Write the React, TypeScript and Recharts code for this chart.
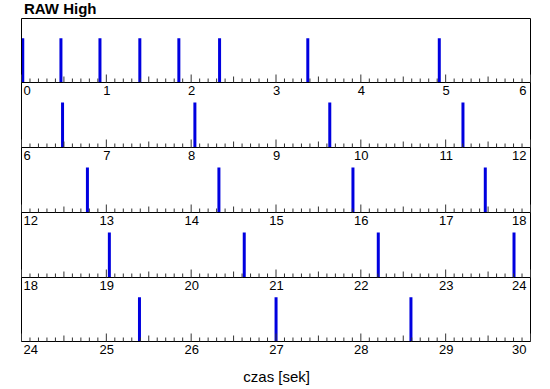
import React from 'react';
import { ComposedChart, Bar, XAxis, YAxis } from 'recharts';

// Panel configuration (seconds)
const PANEL_STARTS = [0, 6, 12, 18, 24];
const PANEL_SPAN = 6;
const PANEL_TOPS = [18, 82, 147, 212, 277];
const PANEL_BOTTOMS = [82, 147, 212, 277, 341];

// Spike times (seconds)
const SPIKE_TIMES = [
  0.01, 0.46, 0.92, 1.39, 1.85, 2.33, 3.37, 4.92,
  6.48, 8.04, 9.63, 11.2,
  12.78, 14.33, 15.91, 17.47,
  19.03, 20.62, 22.2, 23.8,
  25.39, 27.0, 28.59,
];
const SPIKE_VALUES = [
  1, 1, 1, 1, 1, 1, 1, 1,
  1, 1, 1, 1,
  1, 1, 1, 1,
  1, 1, 1, 1,
  1, 1, 1,
];

const TITLE = 'RAW High';
const X_TITLE = 'czas [sek]';
const FONT = '"Liberation Sans", Arial, Helvetica, sans-serif';
const SPIKE_COLOR = '#0000e0';

const makeTicks = (lo: number) => {
  const t: number[] = [];
  for (let k = 0; k <= PANEL_SPAN * 10; k++) t.push(Math.round(lo * 10 + k) / 10);
  return t;
};

const makeTick = (lo: number, hi: number) => (props: any) => {
  const { x, y, payload } = props;
  const v = payload.value as number;
  const rel = Math.round((v - lo) * 10);
  const isInt = rel % 10 === 0;
  const isHalf = rel % 5 === 0;
  const len = isInt ? 8 : isHalf ? 6 : 4;
  let anchor: 'start' | 'middle' | 'end' = 'middle';
  let tx = x + 0.5;
  if (rel === 0) {
    anchor = 'start';
    tx = x + 2;
  } else if (Math.abs(v - hi) < 1e-6) {
    anchor = 'end';
    tx = x - 4;
  }
  return (
    <g>
      <line x1={x} x2={x} y1={y} y2={y - len} stroke="#333" strokeWidth={1} />
      {isInt && (
        <text x={tx} y={y + 12} textAnchor={anchor} fontSize={13} fontFamily={FONT} fill="#000">
          {String(v)}
        </text>
      )}
    </g>
  );
};

const Panel = ({ index }: { index: number }) => {
  const lo = PANEL_STARTS[index];
  const hi = lo + PANEL_SPAN;
  const h = PANEL_BOTTOMS[index] - PANEL_TOPS[index];
  const data = SPIKE_TIMES.map((t, i) => ({ t, v: SPIKE_VALUES[i] })).filter(
    (d) => d.t >= lo && d.t < hi
  );
  const first = index === 0;
  return (
    <div style={{ position: 'absolute', left: 0, top: PANEL_TOPS[index] }}>
      <ComposedChart
        width={550}
        height={h + 22}
        data={data}
        margin={{ top: first ? -0.5 : 0.5, right: 18.5, bottom: 0, left: 20.5 }}
      >
        <XAxis
          dataKey="t"
          type="number"
          domain={[lo, hi]}
          ticks={makeTicks(lo)}
          interval={0}
          tickSize={0}
          tickMargin={0}
          tickLine={false}
          tick={makeTick(lo, hi)}
          axisLine={{ stroke: '#000', strokeWidth: 1 }}
          height={21.5}
          allowDataOverflow
        />
        {first && (
          <XAxis
            xAxisId="top"
            orientation="top"
            type="number"
            domain={[lo, hi]}
            height={1}
            tick={false}
            tickLine={false}
            axisLine={{ stroke: '#000', strokeWidth: 1 }}
          />
        )}
        <YAxis
          type="number"
          domain={[0, 65 / 45]}
          width={1}
          tick={false}
          tickLine={false}
          axisLine={{ stroke: '#000', strokeWidth: 1 }}
          allowDataOverflow
        />
        <YAxis
          yAxisId="right"
          orientation="right"
          type="number"
          domain={[0, 1]}
          width={1}
          tick={false}
          tickLine={false}
          axisLine={{ stroke: '#000', strokeWidth: 1 }}
        />
        <Bar dataKey="v" fill={SPIKE_COLOR} barSize={3} isAnimationActive={false} />
      </ComposedChart>
    </div>
  );
};

export default function App() {
  return (
    <div
      style={{
        position: 'absolute',
        left: 0,
        top: 0,
        width: 550,
        height: 389,
        background: '#fff',
        fontFamily: FONT,
        overflow: 'hidden',
      }}
    >
      <div
        style={{
          position: 'absolute',
          left: 24,
          top: 1,
          fontSize: 15,
          fontWeight: 'bold',
          lineHeight: '16px',
          color: '#000',
        }}
      >
        {TITLE}
      </div>
      {PANEL_STARTS.map((_, i) => (
        <Panel key={i} index={i} />
      ))}
      <div
        style={{
          position: 'absolute',
          right: 550 - 310,
          top: 368,
          fontSize: 15,
          lineHeight: '17px',
          color: '#000',
          whiteSpace: 'nowrap',
        }}
      >
        {X_TITLE}
      </div>
    </div>
  );
}
